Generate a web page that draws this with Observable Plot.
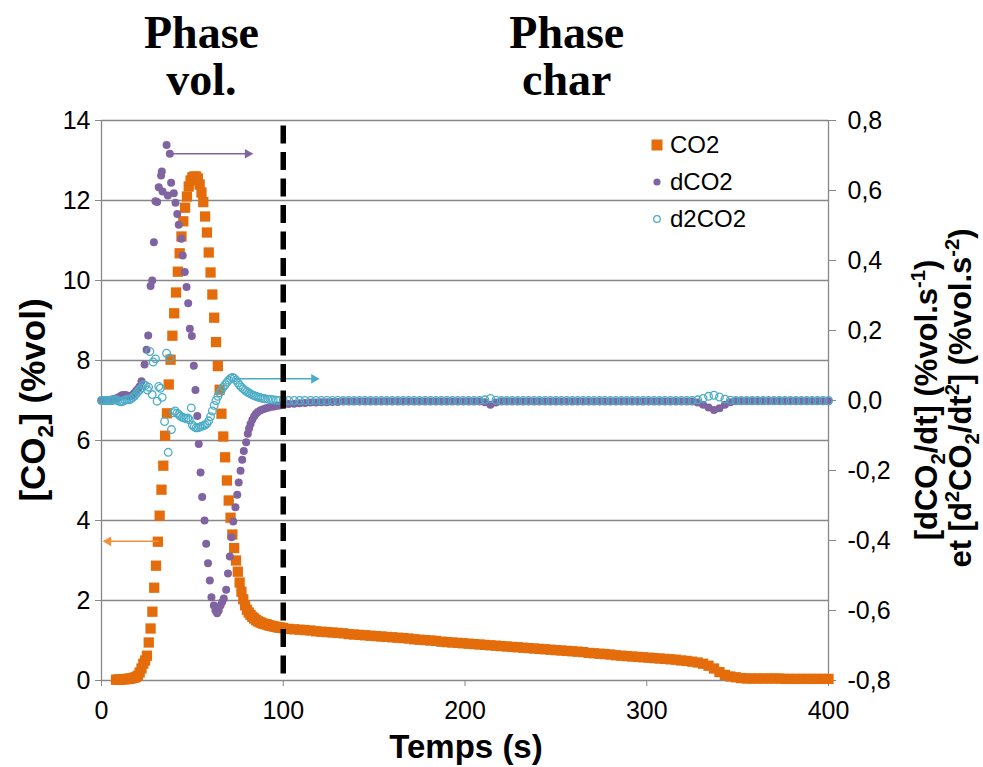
<!DOCTYPE html>
<html>
<head>
<meta charset="utf-8">
<script src="https://cdn.jsdelivr.net/npm/d3@7"></script>
<script src="https://cdn.jsdelivr.net/npm/@observablehq/plot@0.6"></script>
<style>
  html, body { margin:0; padding:0; background:#fff; }
  #wrap { position:relative; width:983px; height:767px; overflow:hidden; font-family:"Liberation Sans", Arial, sans-serif; }
  .leg { position:absolute; display:flex; align-items:center; height:30px; font-size:24px; color:#000; }
  .leg svg { margin-right:6px; }
</style>
</head>
<body>
<div id="wrap"></div>
<script>
// ---------------- DATA ----------------
// Time axis (s) and CO2 concentration (%vol), peak region
const co2PeakTime = [8,9,10,11,12,13,14,15,16,17,18,19,20,21,22,
  23,24,25,26,27,28,29,30,31,32,33,34,35,36,37,38,39,40,41,42,43,44,45,46,47,48,49,50,
  51,52,53,54,55,56,57,58,59,60,61,62,63,64,65,66,67,68,69,70,71,72,73,74,75,76,77,78,79,80,
  81,82,83,84,85,86,87,88,89,90,91,92,93,94,95,96,97,98,99];
const co2PeakValue = [0.02,0.02,0.03,0.03,0.03,0.03,0.04,0.04,0.05,0.06,0.07,0.09,0.12,0.2,0.3,
  0.42,0.5,0.62,0.95,1.3,1.72,2.32,2.87,3.47,4.12,4.77,5.37,6.12,6.68,7.4,8.02,8.62,9.18,9.7,10.22,10.68,11.1,11.48,11.82,12.1,12.35,12.5,12.58,
  12.6,12.6,12.55,12.4,12.2,11.96,11.6,11.2,10.7,10.2,9.65,9.07,8.46,7.86,7.27,6.67,6.1,5.58,5.0,4.5,4.07,3.65,3.31,3.0,2.72,2.45,2.22,2.03,1.88,1.77,
  1.7,1.64,1.59,1.55,1.51,1.48,1.46,1.44,1.42,1.41,1.4,1.38,1.37,1.36,1.35,1.34,1.33,1.32,1.32];

// Char phase (shared time samples for the three series)
const tailTime = [
  100,103,106,109,112,115,118,121,124,127,
  130,133,136,139,142,145,148,151,154,157,
  160,163,166,169,172,175,178,181,184,187,
  190,193,196,199,202,205,208,211,214,217,
  220,223,226,229,232,235,238,241,244,247,
  250,253,256,259,262,265,268,271,274,277,
  280,283,286,289,292,295,298,301,304,307,
  310,313,316,319,322,325,328,331,334,337,
  340,343,346,349,352,355,358,361,364,367,
  370,373,376,379,382,385,388,391,394,397,
  400];
const co2TailValue = [
  1.31,1.29,1.28,1.27,1.26,1.25,1.23,1.22,1.21,1.2,
  1.19,1.18,1.16,1.15,1.14,1.13,1.12,1.11,1.1,1.09,
  1.08,1.07,1.06,1.05,1.03,1.02,1.01,1.0,0.99,0.97,
  0.96,0.95,0.94,0.93,0.92,0.91,0.9,0.89,0.88,0.87,
  0.86,0.85,0.84,0.83,0.82,0.81,0.8,0.79,0.78,0.77,
  0.76,0.75,0.74,0.73,0.72,0.71,0.69,0.68,0.67,0.66,
  0.65,0.63,0.62,0.61,0.6,0.59,0.58,0.57,0.56,0.55,
  0.54,0.53,0.52,0.5,0.49,0.47,0.45,0.42,0.37,0.3,
  0.21,0.14,0.1,0.08,0.06,0.05,0.05,0.05,0.05,0.05,
  0.05,0.05,0.04,0.04,0.04,0.04,0.04,0.04,0.04,0.04,
  0.04];

// dCO2/dt (%vol.s-1), right axis
const dco2PeakTime = [0,1,2,3,4,5,6,7,8,9,10,11,12,13,14,15,16,17,18,19,20,21,22,
  23.7,24.8,25.7,27,27.9,28.8,29.7,30.6,31.5,32.8,33.2,33.6,35.8,36.5,37.6,38.3,39.8,40.7,41.7,42.5,43.9,44.7,45.8,46.8,47.7,48.6,49.7,50.8,
  51.7,52.7,53.5,54.5,55.4,56.7,57.6,58.6,59.6,60.5,61.8,62.7,63.6,64.5,65.5,66.4,67.3,68.6,69.6,70.6,71.5,72.5,73.7,74.7,75.5,76.5,77.4,78.3,79.6,80.5,
  81.2,82,83,84,85,86,87.5,89,90.5,92,93.5,95,96.5,98];
const dco2PeakValue = [0,0,0,0,0,0.002,0.003,0.004,0.006,0.008,0.011,0.014,0.016,0.016,0.014,0.012,0.013,0.016,0.021,0.027,0.033,0.04,0.055,
  0.103,0.145,0.186,0.327,0.343,0.452,0.569,0.567,0.609,0.643,0.654,0.597,0.73,0.586,0.705,0.622,0.592,0.565,0.533,0.502,0.462,0.414,0.367,0.324,0.278,0.205,0.184,0.099,
  0.03,-0.044,-0.124,-0.206,-0.276,-0.343,-0.409,-0.465,-0.514,-0.562,-0.586,-0.6,-0.608,-0.6,-0.586,-0.576,-0.566,-0.541,-0.494,-0.446,-0.391,-0.346,-0.305,-0.269,-0.234,-0.201,-0.169,-0.144,-0.119,-0.095,
  -0.08,-0.067,-0.055,-0.045,-0.038,-0.033,-0.028,-0.025,-0.022,-0.02,-0.018,-0.017,-0.015,-0.014];
const dco2TailValue = [
  -0.012,-0.01,-0.009,-0.008,-0.007,-0.006,-0.006,-0.005,-0.005,-0.004,
  -0.004,-0.003,-0.003,-0.003,-0.003,-0.003,-0.003,-0.003,-0.003,-0.003,
  -0.003,-0.003,-0.003,-0.003,-0.003,-0.003,-0.003,-0.003,-0.003,-0.003,
  -0.003,-0.003,-0.003,-0.003,-0.003,-0.003,-0.003,-0.005,-0.012,-0.006,
  -0.003,-0.003,-0.003,-0.003,-0.003,-0.003,-0.003,-0.003,-0.003,-0.003,
  -0.003,-0.003,-0.003,-0.003,-0.003,-0.003,-0.003,-0.003,-0.003,-0.003,
  -0.003,-0.003,-0.003,-0.003,-0.003,-0.003,-0.003,-0.003,-0.003,-0.003,
  -0.003,-0.003,-0.003,-0.003,-0.003,-0.003,-0.006,-0.012,-0.02,-0.027,
  -0.022,-0.012,-0.005,-0.002,-0.002,-0.002,-0.002,-0.002,-0.002,-0.002,
  -0.002,-0.002,-0.002,-0.002,-0.002,-0.002,-0.002,-0.002,-0.002,-0.002,
  -0.002];

// d2CO2/dt2 (%vol.s-2), right axis
const d2co2PeakTime = [0,1,2,3,4,5,6,7,8,9,10,11,12,13,14,15,16,17,18,19,20,21,22,
  23,24.2,25.3,25.9,26.6,27.9,28.4,29.7,30.6,31.5,32.4,33.4,34.7,35.8,36.7,37.6,38.5,
  39.5,40.5,41.5,42.5,43.5,44.5,45.5,46.5,47.5,48.3,49.4,50,51,52,53,54,55,56,57,58,59,60,
  61,62,63,64,65,66,67,68,69,70,71,72,73,74,75,76,77,78,79,80,
  81,82,83,84,85,86,87,88,89,90,91.5,93,94.5,96,97.5];
const d2co2PeakValue = [0,0,0,0,0,0,0,0.002,0.002,0,-0.003,-0.004,-0.002,0.001,0.003,0.002,0.004,0.008,0.012,0.018,0.025,0.03,0.036,
  0.045,0.043,0.03,0.038,0.14,0.017,0.11,0.119,-0.002,0.04,0.035,0.009,-0.06,0.135,-0.148,0.121,-0.083,
  -0.035,-0.03,-0.036,-0.04,-0.045,-0.048,-0.05,-0.052,-0.05,-0.055,-0.021,-0.07,-0.075,-0.078,-0.078,-0.076,-0.074,-0.072,-0.07,-0.066,-0.058,-0.046,
  -0.03,-0.014,0,0.012,0.022,0.03,0.038,0.045,0.052,0.058,0.063,0.066,0.064,0.058,0.051,0.044,0.038,0.033,0.029,0.025,
  0.022,0.019,0.016,0.014,0.012,0.01,0.009,0.007,0.006,0.005,0.004,0.003,0.002,0.001,0];
const d2co2TailValue = [
  0,0,0,0,0,0,0,0,0,0,
  0,0,0,0,0,0,0,0,0,0,
  0,0,0,0,0,0,0,0,0,0,
  0,0,0,0,0,0,0,0.002,0.006,0.001,
  0,0,0,0,0,0,0,0,0,0,
  0,0,0,0,0,0,0,0,0,0,
  0,0,0,0,0,0,0,0,0,0,
  0,0,0,0,0,0,0.002,0.006,0.012,0.015,
  0.01,0.004,0.001,0,0,0,0,0,0,0,
  0,0,0,0,0,0,0,0,0,0,
  0];

// Axis ticks
const xTicks = [0,100,200,300,400];
const leftTicks = [0,2,4,6,8,10,12,14];
const rightTicks = [-0.8,-0.6,-0.4,-0.2,0,0.2,0.4,0.6,0.8];
const leftDomain = [0,14];
const rightDomain = [-0.8,0.8];

// Annotations
const phaseLabels = [{t:55, line1:"Phase", line2:"vol."}, {t:256, line1:"Phase", line2:"char"}];
const phaseBoundary = [100];
const arrowData = [
  {t1:37.6, t2:82.9, v:0.705, axis:"right", series:"dCO2"},
  {t1:72.6, t2:119.4, v:0.062, axis:"right", series:"d2CO2"},
  {t1:31.5, t2:1.3, v:3.48, axis:"left", series:"CO2"}
];
const seriesNames = ["CO2","dCO2","d2CO2"];

// ---------------- CHART ----------------
const orange = "#E46C0A", purple = "#8064A2", cyan = "#4BACC6", grid = "#878787";
const arrowColor = {CO2:"#F0913F", dCO2:purple, d2CO2:cyan};
const toLeft = v => leftDomain[0] + (v - rightDomain[0]) / (rightDomain[1] - rightDomain[0]) * (leftDomain[1] - leftDomain[0]);
const toRight = y => rightDomain[0] + (y - leftDomain[0]) / (leftDomain[1] - leftDomain[0]) * (rightDomain[1] - rightDomain[0]);
const fmtRight = y => { const r = Math.round(toRight(y) * 10) / 10; if (Math.abs(r) < 1e-9) return "0,0"; return (r < 0 ? "-" : "") + Math.abs(r).toFixed(1).replace(".", ","); };

const co2 = co2PeakTime.map((t,i)=>({t, y:co2PeakValue[i]}))
  .concat(tailTime.map((t,i)=>({t, y:co2TailValue[i]})));
const dco2 = dco2PeakTime.map((t,i)=>({t, y:toLeft(dco2PeakValue[i])}))
  .concat(tailTime.map((t,i)=>({t, y:toLeft(dco2TailValue[i])})));
const d2co2 = d2co2PeakTime.map((t,i)=>({t, y:toLeft(d2co2PeakValue[i])}))
  .concat(tailTime.map((t,i)=>({t, y:toLeft(d2co2TailValue[i])})));
const arrows = arrowData.map(a => ({...a, y: a.axis === "right" ? toLeft(a.v) : a.v, color: arrowColor[a.series], rot: a.t2 > a.t1 ? 90 : -90}));
const arrowsR = arrows.filter(a => a.rot === 90), arrowsL = arrows.filter(a => a.rot === -90);

const phaseFont = {fontFamily: "'Liberation Serif', 'Times New Roman', serif", fontWeight: "bold", fontSize: 46, fill: "black", frameAnchor: "top"};

const chart = Plot.plot({
  width: 983, height: 767,
  marginLeft: 101, marginRight: 155, marginTop: 120, marginBottom: 87,
  x: {domain: [0, 400]},
  y: {domain: leftDomain},
  style: {fontFamily: "'Liberation Sans', Arial, sans-serif", fontSize: "25px", background: "white", color: "black", overflow: "visible"},
  marks: [
    Plot.ruleY(leftTicks, {stroke: grid, strokeWidth: 1.3}),
    Plot.ruleX([0, 400], {stroke: grid, strokeWidth: 1.3}),
    Plot.axisY({anchor: "left", ticks: leftTicks, tickSize: 6, tickPadding: 5, label: null, stroke: grid, strokeOpacity: 1, tickFormat: d => String(d)}),
    Plot.axisY({anchor: "right", ticks: rightTicks.map(toLeft), tickSize: 7, tickPadding: 12, label: null, stroke: grid, strokeOpacity: 1, tickFormat: fmtRight}),
    Plot.axisX({ticks: xTicks, tickSize: 6, tickPadding: 15, label: null, stroke: grid, strokeOpacity: 1, tickFormat: d => String(d)}),
    Plot.dot(co2, {x: "t", y: "y", symbol: "square", r: 5.8, fill: orange}),
    Plot.dot(dco2, {x: "t", y: "y", r: 4, fill: purple}),
    Plot.dot(d2co2, {x: "t", y: "y", r: 3.8, fill: "none", stroke: cyan, strokeWidth: 1.3}),
    Plot.link(arrows, {x1: "t1", x2: "t2", y1: "y", y2: "y", stroke: "color", strokeWidth: 1.6}),
    Plot.dot(arrowsR, {x: "t2", y: "y", symbol: "triangle", r: 3.6, fill: "color", rotate: 90, dx: -4.5}),
    Plot.dot(arrowsL, {x: "t2", y: "y", symbol: "triangle", r: 3.6, fill: "color", rotate: -90, dx: 4.5}),
    Plot.ruleX(phaseBoundary, {stroke: "black", strokeWidth: 5.5, strokeDasharray: "18,8.5", strokeDashoffset: 21}),
    Plot.text(phaseLabels, {x: "t", text: "line1", dy: -105, ...phaseFont}),
    Plot.text(phaseLabels, {x: "t", text: "line2", dy: -58, ...phaseFont})
  ]
});

document.getElementById("wrap").appendChild(chart);

const svg = d3.select(chart);
function addTitle(parts, x, y, rotate, size) {
  const g = svg.append("text")
    .attr("transform", `translate(${x},${y})` + (rotate ? " rotate(-90)" : ""))
    .attr("text-anchor", "middle")
    .attr("y", rotate ? size * 0.36 : 0)
    .attr("font-family", "'Liberation Sans', Arial, sans-serif")
    .attr("font-weight", "bold")
    .attr("font-size", size)
    .attr("fill", "black");
  let shift = 0;
  parts.forEach(([txt, kind]) => {
    const target = kind === "sub" ? size * 0.25 : kind === "sup" ? -size * 0.38 : 0;
    g.append("tspan").attr("dy", target - shift)
      .attr("font-size", kind ? size * 0.65 : size).text(txt);
    shift = target;
  });
}
addTitle([["[CO"],["2","sub"],["] (%vol)"]], 32, 400, true, 35);
addTitle([["Temps (s)"]], 466, 758, false, 33);
addTitle([["[dCO"],["2","sub"],["/dt] (%vol.s"],["-1","sup"],[")"]], 926, 400, true, 31);
addTitle([["et [d"],["2","sup"],["CO"],["2","sub"],["/dt"],["2","sup"],["] (%vol.s"],["-2","sup"],[")"]], 960, 398, true, 31);

// Legend (HTML, top-right inside plot frame)
const legendItems = [
  {label: seriesNames[0], kind: "square", color: orange},
  {label: seriesNames[1], kind: "dot", color: purple},
  {label: seriesNames[2], kind: "ring", color: cyan}
];
const wrap = d3.select("#wrap");
legendItems.forEach((it, i) => {
  const row = wrap.append("div").attr("class", "leg")
    .style("left", "650px").style("top", (130 + i * 37) + "px");
  const s = row.append("svg").attr("width", 14).attr("height", 14);
  if (it.kind === "square") s.append("rect").attr("x", 1.5).attr("y", 1.5).attr("width", 11).attr("height", 11).attr("fill", it.color);
  else if (it.kind === "dot") s.append("circle").attr("cx", 7).attr("cy", 7).attr("r", 3.6).attr("fill", it.color);
  else s.append("circle").attr("cx", 7).attr("cy", 7).attr("r", 3.3).attr("fill", "none").attr("stroke", it.color).attr("stroke-width", 1.3);
  row.append("span").text(it.label);
});
</script>
</body>
</html>
